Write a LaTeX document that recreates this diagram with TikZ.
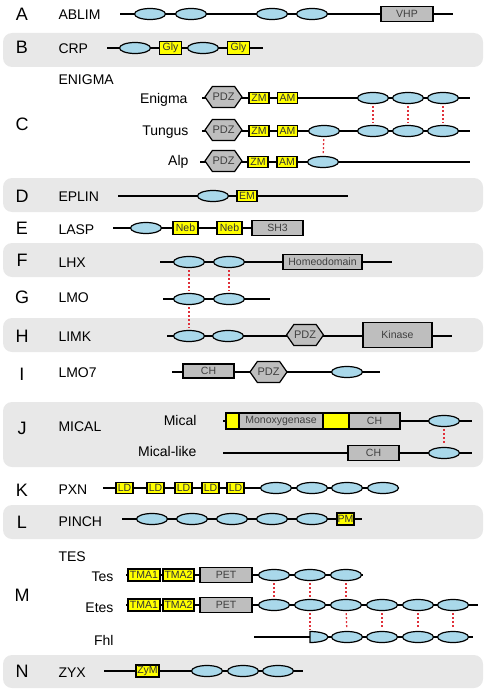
\documentclass[tikz,border=0pt]{standalone}
\usepackage{fontspec}
\setmainfont{Liberation Sans}
\usepackage{xcolor}
\usepackage{tikz}
\usetikzlibrary{shapes,arrows,positioning}

\definecolor{limblue}{HTML}{A9D8EA}
\definecolor{bandgray}{HTML}{E8E8E8}
\definecolor{domgray}{HTML}{BEBEBE}
\definecolor{motifyellow}{HTML}{FFFF00}
\definecolor{linkred}{HTML}{E0303A}

\begin{document}
\begin{tikzpicture}[
    x=1pt, y=-1pt,
    band/.style={fill=bandgray, rounded corners=9pt},
    backbone/.style={line width=1.2pt},
    lim/.style={ellipse, draw, fill=limblue, line width=1.2pt, minimum width=31pt, minimum height=11pt, inner sep=0pt},
    dombox/.style={rectangle, draw, fill=domgray, line width=1.2pt, inner sep=0pt, text=black!75, font=\fontsize{10.5}{12}\selectfont},
    motif/.style={rectangle, draw, fill=motifyellow, line width=1.2pt, inner sep=0pt, minimum width=20pt, minimum height=11pt, text=black!80, font=\fontsize{10.5}{12}\selectfont},
    pdz/.style={signal, signal to=east and west, signal pointer angle=110, draw, fill=domgray, line width=1.2pt, minimum width=37pt, minimum height=21pt, inner sep=0pt, text=black!75, font=\fontsize{11}{12}\selectfont},
    letter/.style={font=\fontsize{18}{20}\selectfont},
    family/.style={anchor=west, font=\fontsize{14}{16}\selectfont},
    member/.style={anchor=east, font=\fontsize{14}{16}\selectfont},
    link/.style={draw=linkred, line width=1.3pt, dash pattern=on 2pt off 2pt, shorten <=2pt, shorten >=2pt}
]
    \useasboundingbox (0,0) rectangle (487,693);

    % Bands
    \fill[band] (3,33) rectangle (483,67);
    \fill[band] (3,178) rectangle (483,212);
    \fill[band] (3,243) rectangle (483,277);
    \fill[band] (3,318) rectangle (483,352);
    \fill[band] (3,402) rectangle (483,467);
    \fill[band] (3,505) rectangle (483,539);
    \fill[band] (3,655) rectangle (483,688);

    % A: ABLIM
    \node[letter] (lA) at (22,14) {A};
    \node[family] (ablim) at (55,15) {ABLIM};
    \coordinate (ablimN) at (120,14);
    \coordinate (ablimC) at (453,14);
    \draw[backbone] (ablimN) -- (ablimC);
    \node[lim] (ab1) at (150,14) {};
    \node[lim] (ab2) at (191,14) {};
    \node[lim] (ab3) at (272,14) {};
    \node[lim] (ab4) at (312,14) {};
    \node[dombox, minimum width=52pt, minimum height=15pt] (vhp) at (407,14) {VHP};

    % B: CRP
    \node[letter] (lB) at (22,47) {B};
    \node[family] (crp) at (55,49) {CRP};
    \coordinate (crpN) at (107,48);
    \coordinate (crpC) at (263,48);
    \draw[backbone] (crpN) -- (crpC);
    \node[lim] (crp1) at (135,48) {};
    \node[motif, minimum width=22pt, minimum height=13pt] (gly1) at (170.5,48) {Gly};
    \node[lim] (crp2) at (203,48) {};
    \node[motif, minimum width=22pt, minimum height=13pt] (gly2) at (238.5,48) {Gly};

    % C: ENIGMA
    \node[letter] (lC) at (22,124) {C};
    \node[family] (enigmafam) at (55,80) {ENIGMA};
    % Enigma
    \node[member] (enigma) at (191,100) {Enigma};
    \coordinate (enN) at (202,98);
    \coordinate (enC) at (470,98);
    \draw[backbone] (enN) -- (enC);
    \node[pdz] (enpdz) at (223.5,97) {PDZ};
    \node[motif] (enzm) at (259,98) {ZM};
    \node[motif] (enam) at (287.5,98) {AM};
    \node[lim] (en1) at (373,98) {};
    \node[lim] (en2) at (408,98) {};
    \node[lim] (en3) at (443,98) {};
    % Tungus
    \node[member] (tungus) at (192,132) {Tungus};
    \coordinate (tuN) at (202,131);
    \coordinate (tuC) at (470,131);
    \draw[backbone] (tuN) -- (tuC);
    \node[pdz] (tupdz) at (223.5,130) {PDZ};
    \node[motif] (tuzm) at (259,131) {ZM};
    \node[motif] (tuam) at (287.5,131) {AM};
    \node[lim] (tu1) at (324,131) {};
    \node[lim] (tu2) at (373,131) {};
    \node[lim] (tu3) at (408,131) {};
    \node[lim] (tu4) at (443,131) {};
    % Alp
    \node[member] (alp) at (192,162) {Alp};
    \coordinate (alN) at (200,162);
    \coordinate (alC) at (470,162);
    \draw[backbone] (alN) -- (alC);
    \node[pdz] (alpdz) at (223.5,161) {PDZ};
    \node[motif] (alzm) at (258,162) {ZM};
    \node[motif] (alam) at (287,162) {AM};
    \node[lim] (al1) at (323,162) {};
    \draw[link] (en1) -- (tu2);
    \draw[link] (en2) -- (tu3);
    \draw[link] (en3) -- (tu4);
    \draw[link] (tu1) -- (al1);

    % D: EPLIN
    \node[letter] (lD) at (22,196) {D};
    \node[family] (eplin) at (55,197) {EPLIN};
    \coordinate (eplinN) at (118,196);
    \coordinate (eplinC) at (348,196);
    \draw[backbone] (eplinN) -- (eplinC);
    \node[lim] (ep1) at (213,196) {};
    \node[motif] (em) at (247,196) {EM};

    % E: LASP
    \node[letter] (lE) at (22,228) {E};
    \node[family] (lasp) at (55,230) {LASP};
    \coordinate (laspN) at (113,228);
    \coordinate (laspC) at (300,228);
    \draw[backbone] (laspN) -- (laspC);
    \node[lim] (la1) at (146,228) {};
    \node[motif, minimum width=25pt, minimum height=13pt] (neb1) at (185.5,228) {Neb};
    \node[motif, minimum width=25pt, minimum height=13pt] (neb2) at (229.5,228) {Neb};
    \node[dombox, minimum width=51pt, minimum height=15pt] (sh3) at (277.5,228) {SH3};

    % F: LHX
    \node[letter] (lF) at (22,260) {F};
    \node[family] (lhx) at (55,263) {LHX};
    \coordinate (lhxN) at (160,262);
    \coordinate (lhxC) at (392,262);
    \draw[backbone] (lhxN) -- (lhxC);
    \node[lim] (lh1) at (189,262) {};
    \node[lim] (lh2) at (229,262) {};
    \node[dombox, minimum width=79pt, minimum height=15pt] (homeo) at (322.5,262) {Homeodomain};

    % G: LMO
    \node[letter] (lG) at (22,297) {G};
    \node[family] (lmo) at (55,298) {LMO};
    \coordinate (lmoN) at (163,299);
    \coordinate (lmoC) at (270,299);
    \draw[backbone] (lmoN) -- (lmoC);
    \node[lim] (lm1) at (189,299) {};
    \node[lim] (lm2) at (229,299) {};

    % H: LIMK
    \node[letter] (lH) at (22,336) {H};
    \node[family] (limk) at (55,337) {LIMK};
    \coordinate (limkN) at (167,336);
    \coordinate (limkC) at (452,336);
    \draw[backbone] (limkN) -- (limkC);
    \node[lim] (lk1) at (189,336) {};
    \node[lim] (lk2) at (228,336) {};
    \node[pdz] (lkpdz) at (305,335) {PDZ};
    \node[dombox, minimum width=69pt, minimum height=25pt] (kinase) at (397.5,335) {Kinase};
    \draw[link] (lh1) -- (lm1);
    \draw[link] (lh2) -- (lm2);
    \draw[link] (lm1) -- (lk1);

    % I: LMO7
    \node[letter] (lI) at (22,374) {I};
    \node[family] (lmo7) at (55,373) {LMO7};
    \coordinate (lmo7N) at (172,372);
    \coordinate (lmo7C) at (380,372);
    \draw[backbone] (lmo7N) -- (lmo7C);
    \node[dombox, minimum width=51pt, minimum height=14pt] (l7ch) at (208.5,371) {CH};
    \node[pdz] (l7pdz) at (268.5,372) {PDZ};
    \node[lim] (l71) at (347,372) {};

    % J: MICAL
    \node[letter] (lJ) at (22,428) {J};
    \node[family] (micalfam) at (55,427) {MICAL};
    % Mical
    \node[member] (mical) at (200,420) {Mical};
    \coordinate (miN) at (223,421);
    \coordinate (miC) at (472,421);
    \draw[backbone] (miN) -- (miC);
    \node[motif, minimum width=13pt, minimum height=16pt] (miy1) at (232.5,421) {};
    \node[dombox, minimum width=84pt, minimum height=16pt] (mono) at (281,421) {Monoxygenase};
    \node[motif, minimum width=26pt, minimum height=16pt] (miy2) at (336,421) {};
    \node[dombox, minimum width=51pt, minimum height=16pt] (mich) at (374.5,421) {CH};
    \node[lim] (mi1) at (444,421) {};
    % Mical-like
    \node[member] (micallike) at (200,451) {Mical-like};
    \coordinate (mlN) at (223,453);
    \coordinate (mlC) at (472,453);
    \draw[backbone] (mlN) -- (mlC);
    \node[dombox, minimum width=51pt, minimum height=15pt] (mlch) at (373.5,453) {CH};
    \node[lim] (ml1) at (444,453) {};
    \draw[link] (mi1) -- (ml1);

    % K: PXN
    \node[letter] (lK) at (22,490) {K};
    \node[family] (pxn) at (55,490) {PXN};
    \coordinate (pxnN) at (103,488);
    \coordinate (pxnC) at (383,488);
    \draw[backbone] (pxnN) -- (pxnC);
    \node[motif, minimum width=17pt] (ld1) at (124.5,488) {LD};
    \node[motif, minimum width=17pt] (ld2) at (155.5,488) {LD};
    \node[motif, minimum width=17pt] (ld3) at (183.5,488) {LD};
    \node[motif, minimum width=17pt] (ld4) at (210.5,488) {LD};
    \node[motif, minimum width=17pt] (ld5) at (235.5,488) {LD};
    \node[lim] (px1) at (276,488) {};
    \node[lim] (px2) at (312,488) {};
    \node[lim] (px3) at (347,488) {};
    \node[lim] (px4) at (383,488) {};

    % L: PINCH
    \node[letter] (lL) at (22,522) {L};
    \node[family] (pinch) at (55,522) {PINCH};
    \coordinate (pinchN) at (122,519);
    \coordinate (pinchC) at (362,519);
    \draw[backbone] (pinchN) -- (pinchC);
    \node[lim] (pi1) at (152,519) {};
    \node[lim] (pi2) at (192,519) {};
    \node[lim] (pi3) at (232,519) {};
    \node[lim] (pi4) at (272,519) {};
    \node[lim] (pi5) at (312,519) {};
    \node[motif, minimum width=17pt, minimum height=12pt] (pm) at (345.5,519) {PM};

    % M: TES
    \node[letter] (lM) at (22,595) {M};
    \node[family] (tesfam) at (55,557) {TES};
    % Tes
    \node[member] (tes) at (117,577) {Tes};
    \coordinate (teN) at (126,575);
    \coordinate (teC) at (363,575);
    \draw[backbone] (teN) -- (teC);
    \node[motif, minimum width=32pt, minimum height=12pt] (tetma1) at (144,575) {TMA1};
    \node[motif, minimum width=31pt, minimum height=12pt] (tetma2) at (178.5,575) {TMA2};
    \node[dombox, minimum width=52pt, minimum height=15pt] (tepet) at (226,575) {PET};
    \node[lim] (te1) at (274,575) {};
    \node[lim] (te2) at (310,575) {};
    \node[lim] (te3) at (346,575) {};
    % Etes
    \node[member] (etes) at (117,608) {Etes};
    \coordinate (etN) at (126,605);
    \coordinate (etC) at (478,605);
    \draw[backbone] (etN) -- (etC);
    \node[motif, minimum width=32pt, minimum height=12pt] (ettma1) at (144,605) {TMA1};
    \node[motif, minimum width=31pt, minimum height=12pt] (ettma2) at (178.5,605) {TMA2};
    \node[dombox, minimum width=52pt, minimum height=15pt] (etpet) at (226,605) {PET};
    \node[lim] (et1) at (274,605) {};
    \node[lim] (et2) at (310,605) {};
    \node[lim] (et3) at (346,605) {};
    \node[lim] (et4) at (382,605) {};
    \node[lim] (et5) at (418,605) {};
    \node[lim] (et6) at (453,605) {};
    % Fhl
    \node[member] (fhl) at (117,640) {Fhl};
    \coordinate (fhN) at (254,637);
    \coordinate (fhC) at (473,637);
    \draw[backbone] (fhN) -- (fhC);
    \draw[fill=limblue, line width=1.2pt] (310,631.5) arc[start angle=-90, end angle=90, x radius=18, y radius=5.5] -- cycle;
    \coordinate (fh0) at (310,631.5);
    \node[lim] (fh1) at (347,637) {};
    \node[lim] (fh2) at (382,637) {};
    \node[lim] (fh3) at (418,637) {};
    \node[lim] (fh4) at (453,637) {};
    \draw[link] (te1) -- (et1);
    \draw[link] (te2) -- (et2);
    \draw[link] (te3) -- (et3);
    \draw[link] (et2) -- (fh0);
    \draw[link] (et3) -- (fh1);
    \draw[link] (et4) -- (fh2);
    \draw[link] (et5) -- (fh3);
    \draw[link] (et6) -- (fh4);

    % N: ZYX
    \node[letter] (lN) at (22,671) {N};
    \node[family] (zyx) at (55,673) {ZYX};
    \coordinate (zyxN) at (104,671);
    \coordinate (zyxC) at (303,671);
    \draw[backbone] (zyxN) -- (zyxC);
    \node[motif, minimum width=23pt, minimum height=12pt] (zym) at (147.5,671) {ZyM};
    \node[lim] (zy1) at (207,671) {};
    \node[lim] (zy2) at (243,671) {};
    \node[lim] (zy3) at (278,671) {};
\end{tikzpicture}
\end{document}
